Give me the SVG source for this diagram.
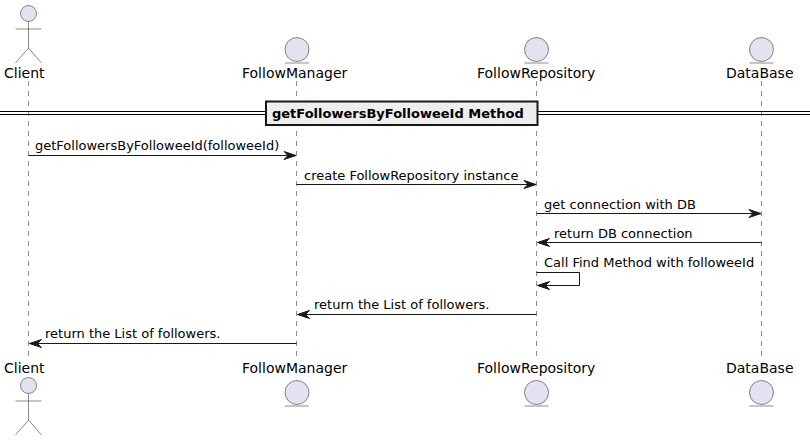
<svg xmlns="http://www.w3.org/2000/svg" width="810" height="441" viewBox="0 0 810 441">
<defs>
<style>
text{font-family:"DejaVu Sans",sans-serif;fill:#000}
.n{font-size:14px}
.m{font-size:13px}
.b{fill:#E2E2F0;stroke:#181818;stroke-width:.5}
.l{stroke:#181818;stroke-width:.5;fill:none}
.life{stroke:#181818;stroke-width:.5;stroke-dasharray:5,5;fill:none}
.c{stroke:#181818;stroke-width:1;fill:none}
.h{fill:#181818;stroke:#181818;stroke-width:1}
</style>
<path id="ar" class="h" d="M0 0L-12 -4L-8 0L-12 4Z"/>
<path id="al" class="h" d="M0 0L12 -4L8 0L12 4Z"/>
<g id="actor-shape"><circle class="b" cx="0" cy="13.500" r="8"/><path class="l" d="M0 21.500V48M-13 29H13M0 48L-13 63M0 48L13 63"/></g>
<g id="entity-shape"><circle class="b" cx="0" cy="12.500" r="12"/><line class="l" x1="-12" y1="26" x2="12" y2="26"/></g>
</defs>
<g id="lifelines">
<line class="life" x1="28.500" y1="81" x2="28.500" y2="360"/>
<line class="life" x1="296.500" y1="81" x2="296.500" y2="360"/>
<line class="life" x1="536.500" y1="81" x2="536.500" y2="360"/>
<line class="life" x1="761.500" y1="81" x2="761.500" y2="360"/>
</g>
<g id="divider">
<path d="M0 111.500H810M0 114.500H810" stroke="#000" stroke-width="1" fill="none"/>
<rect x="266" y="101.500" width="271.500" height="23.500" fill="#EEEEEE" stroke="#181818" stroke-width="2"/>
<text x="272" y="118" font-size="13px" font-weight="bold">getFollowersByFolloweeId Method</text>
</g>
<g id="client-top"><use href="#actor-shape" x="28.500" y="0"/><text class="n" x="4" y="78">Client</text></g>
<g id="manager-top"><use href="#entity-shape" x="297" y="37"/><text class="n" x="242" y="78">FollowManager</text></g>
<g id="repo-top"><use href="#entity-shape" x="536.500" y="37"/><text class="n" x="477" y="78">FollowRepository</text></g>
<g id="db-top"><use href="#entity-shape" x="761.500" y="37"/><text class="n" x="726" y="78">DataBase</text></g>
<g id="client-bottom"><text class="n" x="4" y="373">Client</text><use href="#actor-shape" x="28.500" y="372"/></g>
<g id="manager-bottom"><text class="n" x="242" y="373">FollowManager</text><use href="#entity-shape" x="297" y="380"/></g>
<g id="repo-bottom"><text class="n" x="477" y="373">FollowRepository</text><use href="#entity-shape" x="536.500" y="380"/></g>
<g id="db-bottom"><text class="n" x="726" y="373">DataBase</text><use href="#entity-shape" x="761.500" y="380"/></g>
<g id="connectors">
<line class="c" x1="28.500" y1="155.500" x2="295" y2="155.500"/><use href="#ar" x="296" y="155.500"/>
<line class="c" x1="296.500" y1="184.500" x2="535" y2="184.500"/><use href="#ar" x="536" y="184.500"/>
<line class="c" x1="536.500" y1="213.500" x2="760" y2="213.500"/><use href="#ar" x="761" y="213.500"/>
<line class="c" x1="538" y1="242.500" x2="761.500" y2="242.500"/><use href="#al" x="537.500" y="242.500"/>
<path class="c" d="M536.500 272.500H579.500V285.500H538"/><use href="#al" x="537.500" y="285.500"/>
<line class="c" x1="298" y1="314.500" x2="536.500" y2="314.500"/><use href="#al" x="297.500" y="314.500"/>
<line class="c" x1="30" y1="343.500" x2="296.500" y2="343.500"/><use href="#al" x="29.500" y="343.500"/>
</g>
<g id="labels">
<text class="m" x="35" y="150">getFollowersByFolloweeId(followeeId)</text>
<text class="m" x="304" y="180">create FollowRepository instance</text>
<text class="m" x="544" y="209">get connection with DB</text>
<text class="m" x="554" y="238">return DB connection</text>
<text class="m" x="544" y="267">Call Find Method with followeeId</text>
<text class="m" x="314" y="309">return the List of followers.</text>
<text class="m" x="45" y="338">return the List of followers.</text>
</g>
</svg>
